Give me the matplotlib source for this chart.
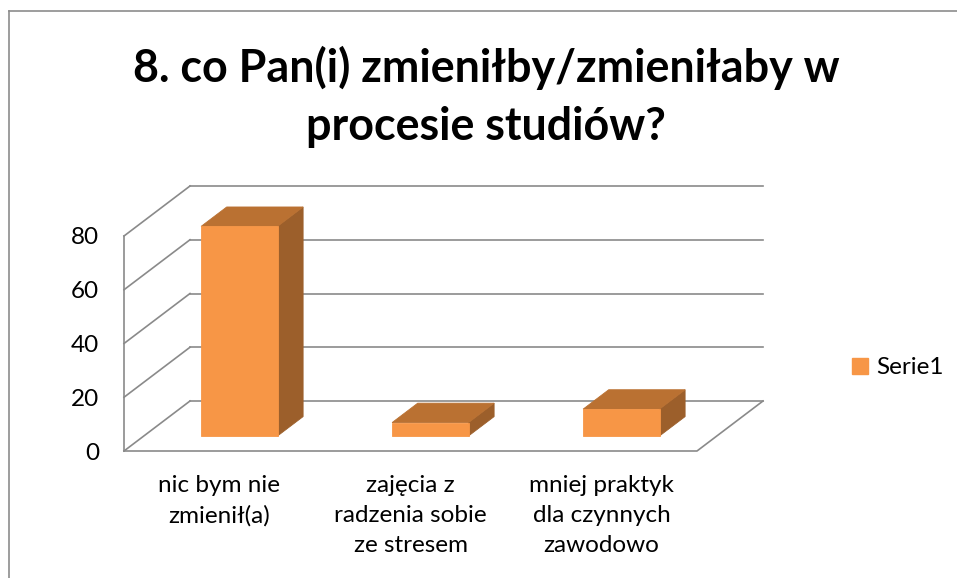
import matplotlib
matplotlib.use("Agg")
import matplotlib.pyplot as plt
from matplotlib.patches import Polygon, Patch
from matplotlib.lines import Line2D

plt.rcParams["font.family"] = ["Lato", "DejaVu Sans"]

# data
categories = ["nic bym nie\nzmienił(a)",
              "zajęcia z\nradzenia sobie\nze stresem",
              "mniej praktyk\ndla czynnych\nzawodowo"]
values = [78, 5, 10]
series_name = "Serie1"
y_ticks = [0, 20, 40, 60, 80]
title = "8. co Pan(i) zmieniłby/zmieniłaby w\nprocesie studiów?"

# colours
FRONT = "#F79646"
TOP = "#BA7132"
SIDE = "#9C5F2B"
GRID = "#8A8A8A"

W, H = 957, 578
fig = plt.figure(figsize=(W / 100, H / 100), dpi=100)
ax = fig.add_axes([124 / W, 127 / H, 573 / W, 215 / H])
n = len(categories)
ax.set_xlim(0, n)
ax.set_ylim(0, max(y_ticks))

# oblique depth offset of the floor / walls, in data units
ddx = 66 / (573 / n)
ddy = 50 / (215 / max(y_ticks))

# back wall gridlines + left wall diagonals
for v in y_ticks:
    ax.plot([ddx, n + ddx], [v + ddy, v + ddy], color=GRID, lw=1.2, clip_on=False, zorder=1)
    ax.plot([0, ddx], [v, v + ddy], color=GRID, lw=1.2, clip_on=False, zorder=1)
# left wall front edge and floor edges
ax.plot([0, 0], [0, max(y_ticks)], color=GRID, lw=1.2, clip_on=False, zorder=1)
ax.plot([0, n, n + ddx], [0, 0, ddy], color=GRID, lw=1.2, clip_on=False, zorder=1)

# 3d bars
d0, d1 = 0.3, 0.688   # front / back depth fraction of each bar
bw = 0.4
for i, v in enumerate(values):
    x0 = i + 0.5 - bw / 2 + d0 * ddx
    y0 = d0 * ddy
    ox, oy = (d1 - d0) * ddx, (d1 - d0) * ddy
    front = [(x0, y0), (x0 + bw, y0), (x0 + bw, y0 + v), (x0, y0 + v)]
    top = [(x0, y0 + v), (x0 + bw, y0 + v), (x0 + bw + ox, y0 + v + oy), (x0 + ox, y0 + v + oy)]
    side = [(x0 + bw, y0), (x0 + bw + ox, y0 + oy), (x0 + bw + ox, y0 + v + oy), (x0 + bw, y0 + v)]
    for pts, c in [(side, SIDE), (top, TOP), (front, FRONT)]:
        ax.add_patch(Polygon(pts, closed=True, facecolor=c, edgecolor=c, lw=0.6,
                             clip_on=False, zorder=3))

for s in ax.spines.values():
    s.set_visible(False)
ax.set_xticks([i + 0.5 for i in range(n)])
ax.set_xticklabels(categories, fontsize=17.5)
for lab in ax.get_xticklabels():
    lab.set_linespacing(1.55)
ax.set_yticks(y_ticks)
ax.set_yticklabels([str(t) for t in y_ticks], fontsize=17.5)
ax.tick_params(axis="x", length=0, pad=17)
ax.tick_params(axis="y", length=0, pad=18)
ax.set_facecolor("none")

# legend
ax.legend(handles=[Patch(facecolor=FRONT, edgecolor=FRONT)], labels=[series_name],
          loc="center left", bbox_to_anchor=(852 / W, 1 - 368 / H),
          bbox_transform=fig.transFigure, frameon=False, fontsize=17.5,
          borderpad=0, borderaxespad=0,
          handlelength=0.65, handleheight=0.65, handletextpad=0.35)

# title, fitted to the width of the first line
t = fig.text(486 / W, 1 - 97 / H, title, ha="center", va="center",
             fontsize=30, fontweight="bold", linespacing=1.45)
r = fig.canvas.get_renderer()
probe = fig.text(0, 0, title.split("\n")[0], fontsize=30, fontweight="bold")
wpx = probe.get_window_extent(r).width
probe.remove()
t.set_fontsize(30 * 707 / wpx)

# outer chart frame (continues past the picture)
fig.add_artist(Line2D([9 / W, 9 / W], [0, 1 - 10.5 / H], color="#8C8C8C", lw=1.2))
fig.add_artist(Line2D([9 / W, 1], [1 - 10.5 / H, 1 - 10.5 / H], color="#8C8C8C", lw=1.2))

fig.savefig("out.png", dpi=100)
